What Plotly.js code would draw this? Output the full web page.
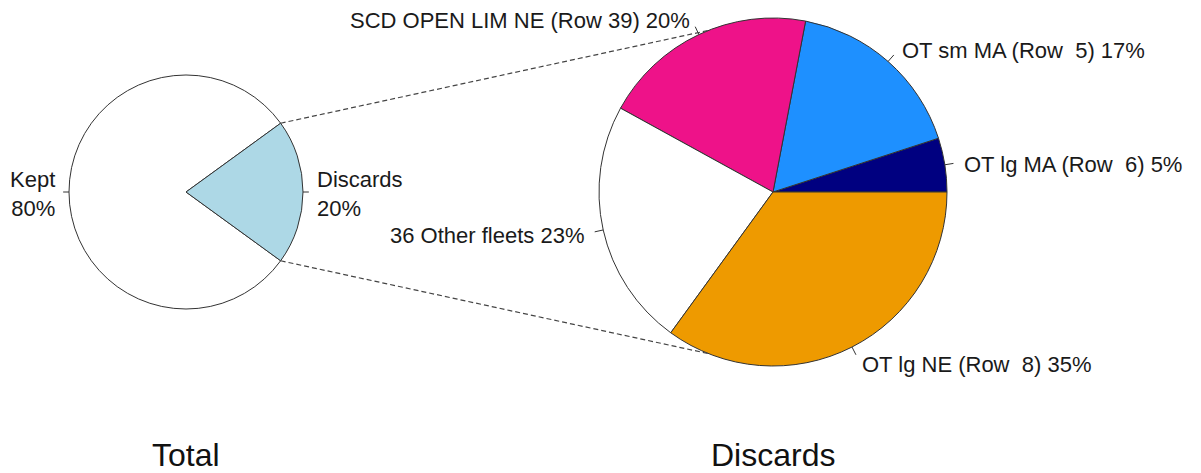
<!DOCTYPE html>
<html>
<head>
<meta charset="utf-8">
<script src="https://cdn.plot.ly/plotly-3.0.1.min.js"></script>
<style>html,body{margin:0;padding:0;background:#fff;}#chart{width:1201px;height:473px;}</style>
</head>
<body>
<div id="chart"></div>
<script>
// ---- data ----
const totalLabels = ['Kept', 'Discards'];
const totalValues = [80, 20];
const discardLabels = ['OT lg MA (Row\u00a0 6)', 'OT sm MA (Row\u00a0 5)', 'SCD OPEN LIM NE (Row 39)', '36 Other fleets', 'OT lg NE (Row\u00a0 8)'];
const discardValues = [5, 17, 20, 23, 35];
const titles = ['Total', 'Discards'];

// ---- style / layout ----
const W = 1201, H = 473;
const totalColors = ['#FFFFFF', '#ADD8E6'];
const discardColors = ['#000080', '#1E90FF', '#EE1289', '#FFFFFF', '#EE9A00'];
const FONT = 'Liberation Sans, Arial, sans-serif';
const LABEL_SIZE = 22;
const leftPie = {cx: 186, cy: 192, r: 117, start: 36};
const rightPie = {cx: 773, cy: 192, r: 174, start: 0};

const px = x => x / W;
const py = y => 1 - y / H;
const sum = a => a.reduce((s, v) => s + v, 0);

function domainOf(p) {
  return {x: [px(p.cx - p.r), px(p.cx + p.r)], y: [py(p.cy + p.r), py(p.cy - p.r)]};
}
function pt(p, angDeg, k) {
  const a = angDeg * Math.PI / 180;
  return [p.cx + k * p.r * Math.cos(a), p.cy - k * p.r * Math.sin(a)];
}
// plotly counterclockwise: first slice ends at `rotation`, so shift by first slice angle
function rotationFor(p, values) {
  return 90 - p.start - 360 * values[0] / sum(values);
}

const data = [
  {type: 'pie', labels: totalLabels, values: totalValues, sort: false,
   direction: 'counterclockwise', rotation: rotationFor(leftPie, totalValues),
   marker: {colors: totalColors, line: {color: '#333', width: 1}},
   textinfo: 'none', hoverinfo: 'label+percent', showlegend: false,
   domain: domainOf(leftPie)},
  {type: 'pie', labels: discardLabels, values: discardValues, sort: false,
   direction: 'counterclockwise', rotation: rotationFor(rightPie, discardValues),
   marker: {colors: discardColors, line: {color: '#333', width: 1}},
   textinfo: 'none', hoverinfo: 'label+percent', showlegend: false,
   domain: domainOf(rightPie)}
];

const annotations = [];
const shapes = [];

function addLabels(p, labels, values, twoLine) {
  const tot = sum(values);
  let cum = 0;
  labels.forEach((lab, i) => {
    const frac = values[i] / tot;
    const mid = p.start + 360 * (cum + frac / 2);
    cum += frac;
    const pct = Math.round(frac * 100) + '%';
    const p0 = pt(p, mid, 1.0), p1 = pt(p, mid, 1.05), pl = pt(p, mid, 1.1);
    shapes.push({type: 'line', xref: 'paper', yref: 'paper',
      x0: px(p0[0]), y0: py(p0[1]), x1: px(p1[0]), y1: py(p1[1]),
      line: {color: '#333', width: 1}});
    const right = Math.cos(mid * Math.PI / 180) >= 0;
    annotations.push({xref: 'paper', yref: 'paper', x: px(pl[0]), y: py(pl[1] + 2),
      text: twoLine ? lab + '<br>' + pct : lab + ' ' + pct,
      xanchor: right ? 'left' : 'right', yanchor: 'middle', align: right ? 'left' : 'right',
      showarrow: false, font: {family: FONT, size: LABEL_SIZE, color: '#1a1a1a'}});
  });
}
addLabels(leftPie, totalLabels, totalValues, true);
addLabels(rightPie, discardLabels, discardValues, false);

// connector dashed lines from the discards slice edges to the discards pie
const halfAng = 180 * totalValues[1] / sum(totalValues);
const a1 = pt(leftPie, halfAng, 1), a2 = pt(leftPie, -halfAng, 1);
const b1 = pt(rightPie, 111.7, 1), b2 = pt(rightPie, 248.3, 1);
[[a1, b1], [a2, b2]].forEach(([a, b]) => {
  shapes.push({type: 'line', xref: 'paper', yref: 'paper',
    x0: px(a[0]), y0: py(a[1]), x1: px(b[0]), y1: py(b[1]),
    line: {color: '#444', width: 1.2, dash: '5px,3px'}});
});

// titles under pies
[leftPie, rightPie].forEach((p, i) => {
  annotations.push({xref: 'paper', yref: 'paper', x: px(p.cx), y: py(455),
    text: titles[i], xanchor: 'center', yanchor: 'middle', showarrow: false,
    font: {family: FONT, size: 32, color: '#111'}});
});

const layout = {
  width: W, height: H,
  margin: {l: 0, r: 0, t: 0, b: 0},
  paper_bgcolor: '#fff', plot_bgcolor: '#fff',
  showlegend: false,
  annotations: annotations,
  shapes: shapes
};
Plotly.newPlot('chart', data, layout, {displayModeBar: false, staticPlot: true});
</script>
</body>
</html>
